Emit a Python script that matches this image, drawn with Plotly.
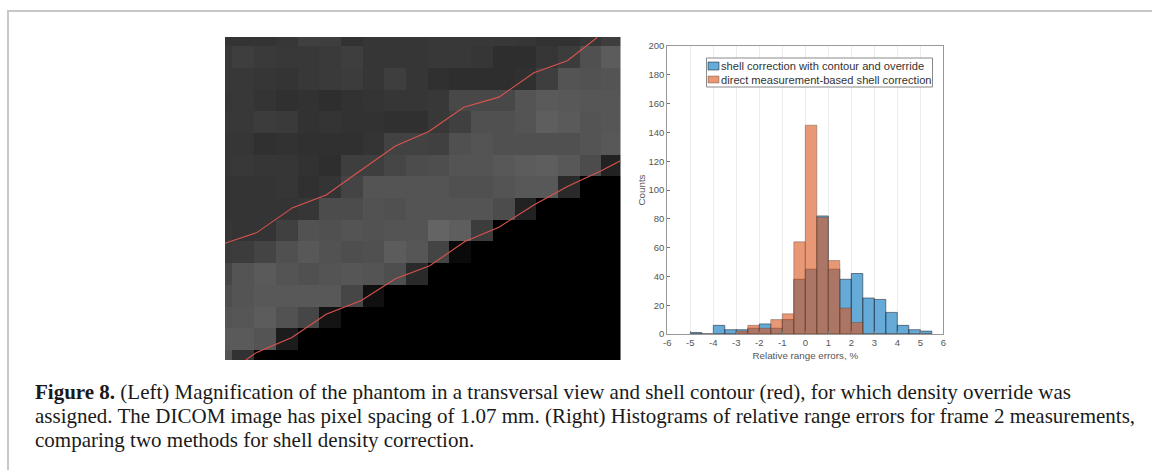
import plotly.graph_objects as go

# Histogram data
bin_centers = [-4.75, -4.25, -3.75, -3.25, -2.75, -2.25, -1.75, -1.25, -0.75, -0.25,
               0.25, 0.75, 1.25, 1.75, 2.25, 2.75, 3.25, 3.75, 4.25, 4.75, 5.25]
counts_contour = [1, 0, 6, 3, 3, 4, 7, 4, 10, 38, 45, 82, 45, 38, 42, 25, 24, 15, 6, 3, 2]
counts_direct = [0, 0, 0, 0, 2, 6, 4, 10, 14, 64, 145, 81, 51, 18, 8, 0, 0, 0, 0, 0, 0]
x_ticks = [-6, -5, -4, -3, -2, -1, 0, 1, 2, 3, 4, 5, 6]
x_tick_labels = ["-6", "-5", "-4", "-3", "-2", "-1", "0", "1", "2", "3", "4", "5", "6"]
y_ticks = list(range(0, 201, 20))
legend_labels = ["shell correction with contour and override",
                 "direct measurement-based shell correction"]

# Phantom image (grey levels) and pixel edges
col_edges = [-0.34] + list(range(0, 18)) + [17.88]
row_edges = [-0.42] + list(range(0, 15)) + [14.46]
grey = [
    [52, 52, 52, 55, 64, 62, 50, 54, 54, 54, 56, 56, 56, 56, 54, 50, 50, 54, 62],
    [56, 62, 58, 56, 56, 58, 62, 54, 54, 54, 56, 56, 54, 46, 46, 54, 60, 80, 92],
    [56, 56, 54, 52, 56, 58, 60, 54, 62, 54, 48, 46, 46, 46, 48, 62, 84, 82, 84],
    [54, 56, 52, 48, 50, 46, 50, 52, 54, 54, 56, 72, 72, 72, 84, 90, 88, 86, 86],
    [56, 56, 60, 58, 50, 52, 50, 50, 48, 48, 56, 64, 80, 80, 84, 94, 90, 84, 86],
    [54, 54, 48, 50, 48, 48, 48, 52, 66, 66, 64, 80, 84, 80, 80, 80, 80, 84, 88],
    [54, 56, 54, 54, 50, 46, 62, 62, 70, 76, 78, 84, 84, 88, 92, 94, 88, 76, 34],
    [52, 52, 52, 54, 48, 52, 68, 84, 84, 84, 84, 80, 80, 84, 88, 88, 42, 0, 0],
    [52, 52, 52, 52, 54, 76, 76, 82, 80, 84, 84, 84, 84, 76, 34, 0, 0, 0, 0],
    [54, 52, 52, 64, 82, 80, 84, 82, 84, 84, 100, 94, 60, 0, 0, 0, 0, 0, 0],
    [58, 60, 68, 80, 88, 82, 78, 80, 92, 86, 68, 10, 0, 0, 0, 0, 0, 0, 0],
    [70, 84, 90, 84, 80, 84, 86, 84, 78, 42, 0, 0, 0, 0, 0, 0, 0, 0, 0],
    [78, 84, 88, 88, 88, 88, 70, 16, 0, 0, 0, 0, 0, 0, 0, 0, 0, 0, 0],
    [84, 86, 92, 82, 70, 20, 0, 0, 0, 0, 0, 0, 0, 0, 0, 0, 0, 0, 0],
    [90, 90, 84, 28, 0, 0, 0, 0, 0, 0, 0, 0, 0, 0, 0, 0, 0, 0, 0],
    [84, 50, 0, 0, 0, 0, 0, 0, 0, 0, 0, 0, 0, 0, 0, 0, 0, 0, 0],
]
upper_x = [-0.34, 1.12, 2.78, 4.32, 5.89, 7.51, 9.05, 10.66, 12.28, 13.89, 15.43, 16.82]
upper_y = [9.08, 8.59, 7.44, 6.86, 5.74, 4.60, 3.93, 2.82, 2.35, 1.23, 0.67, -0.41]
lower_x = [0.63, 1.12, 2.74, 4.32, 5.94, 7.51, 9.09, 10.71, 12.28, 13.89, 15.43, 16.97, 17.88]
lower_y = [14.45, 14.11, 13.42, 12.35, 11.72, 10.72, 10.12, 9.0, 8.34, 7.32, 6.47, 5.75, 5.28]

caption_lines = [
    "<b>Figure 8.</b> (Left) Magnification of the phantom in a transversal view and shell contour (red), for which density override was",
    "assigned. The DICOM image has pixel spacing of 1.07 mm. (Right) Histograms of relative range errors for frame 2 measurements,",
    "comparing two methods for shell density correction.",
]

W, H = 1152, 470
BLUE = "rgba(0,114,189,0.6)"
ORANGE = "rgba(217,83,25,0.6)"
EDGE_BLUE = "rgba(20,20,30,0.5)"
EDGE_ORANGE = "rgba(90,70,60,0.4)"
TXT = "#555555"


def px(x):
    return x / W


def py(y):
    return 1 - y / H


fig = go.Figure()
fig.add_trace(go.Heatmap(x=col_edges, y=row_edges, z=grey, zmin=0, zmax=255,
                         colorscale=[[0, "black"], [1, "white"]], showscale=False,
                         xaxis="x", yaxis="y"))
for xs, ys in ((upper_x, upper_y), (lower_x, lower_y)):
    fig.add_trace(go.Scatter(x=xs, y=ys, mode="lines", showlegend=False,
                             line=dict(color="#d9534f", width=1.1), xaxis="x", yaxis="y"))
fig.add_trace(go.Bar(x=bin_centers, y=counts_contour, width=0.5, name=legend_labels[0],
                     marker=dict(color=BLUE, line=dict(color=EDGE_BLUE, width=1)),
                     xaxis="x2", yaxis="y2", showlegend=False))
fig.add_trace(go.Bar(x=bin_centers, y=counts_direct, width=0.5, name=legend_labels[1],
                     marker=dict(color=ORANGE, line=dict(color=EDGE_ORANGE, width=1)),
                     xaxis="x2", yaxis="y2", showlegend=False))

shapes = [
    dict(type="line", xref="paper", yref="paper", x0=px(8), x1=px(8), y0=0, y1=py(10),
         line=dict(color="#c8c8c8", width=2)),
    dict(type="line", xref="paper", yref="paper", x0=px(7), x1=1, y0=py(11), y1=py(11),
         line=dict(color="#c8c8c8", width=2)),
    # legend box and colour keys
    dict(type="rect", xref="paper", yref="paper", x0=px(706.5), x1=px(932.5), y0=py(87), y1=py(58),
         fillcolor="white", line=dict(color="#8a8a8a", width=1), layer="above"),
    dict(type="rect", xref="paper", yref="paper", x0=px(708), x1=px(719), y0=py(70), y1=py(62),
         fillcolor=BLUE, line=dict(color=EDGE_BLUE, width=1), layer="above"),
    dict(type="rect", xref="paper", yref="paper", x0=px(708), x1=px(719), y0=py(83), y1=py(76),
         fillcolor=ORANGE, line=dict(color=EDGE_ORANGE, width=1), layer="above"),
]

annotations = [
    dict(text=legend_labels[0], xref="paper", yref="paper", x=px(718.5), y=py(66), xanchor="left",
         yanchor="middle", showarrow=False, font=dict(family="Liberation Sans", size=11.15, color="#333333")),
    dict(text=legend_labels[1], xref="paper", yref="paper", x=px(718.5), y=py(79.5), xanchor="left",
         yanchor="middle", showarrow=False, font=dict(family="Liberation Sans", size=11.15, color="#333333")),
]
for line, yy in zip(caption_lines, (392, 416, 440)):
    annotations.append(dict(text=line, xref="paper", yref="paper", x=px(33), y=py(yy), xanchor="left",
                            yanchor="middle", showarrow=False,
                            font=dict(family="Liberation Serif", size=21, color="#1a1a1a")))

fig.update_layout(
    width=W, height=H, margin=dict(l=0, r=0, t=0, b=0), paper_bgcolor="white", plot_bgcolor="white",
    barmode="overlay", showlegend=False, shapes=shapes, annotations=annotations,
    xaxis=dict(domain=[px(225), px(620.5)], range=[col_edges[0], col_edges[-1]], visible=False,
               automargin=False),
    yaxis=dict(domain=[py(360), py(37)], range=[row_edges[-1], row_edges[0]], visible=False,
               automargin=False),
    xaxis2=dict(domain=[px(667.3), px(943.3)], range=[-6, 6], tickmode="array", tickvals=x_ticks,
                ticktext=x_tick_labels, ticks="inside", ticklen=3, tickcolor="#777777", showgrid=True,
                gridcolor="#ececec", gridwidth=1, zeroline=False, showline=True, mirror=True,
                linecolor="#999999", linewidth=1, anchor="y2", automargin=False,
                tickfont=dict(family="Liberation Sans", size=9.5, color=TXT),
                title=dict(text="Relative range errors, %", standoff=4,
                           font=dict(family="Liberation Sans", size=9.8, color=TXT))),
    yaxis2=dict(domain=[py(334), py(46)], range=[0, 200], tickmode="array", tickvals=y_ticks,
                ticks="inside", ticklen=3, tickcolor="#777777", showgrid=False, zeroline=False,
                showline=True, mirror=True, linecolor="#999999", linewidth=1, anchor="x2", automargin=False,
                tickfont=dict(family="Liberation Sans", size=9.5, color=TXT),
                title=dict(text="Counts", standoff=1,
                           font=dict(family="Liberation Sans", size=9.8, color=TXT))),
)
fig.write_html("out.html", default_width="1152px", default_height="470px",
               post_script="document.documentElement.style.margin='0';document.body.style.margin='0';document.body.style.padding='0';document.documentElement.style.overflow='hidden';document.body.style.overflow='hidden';",
               config={"displayModeBar": False})
